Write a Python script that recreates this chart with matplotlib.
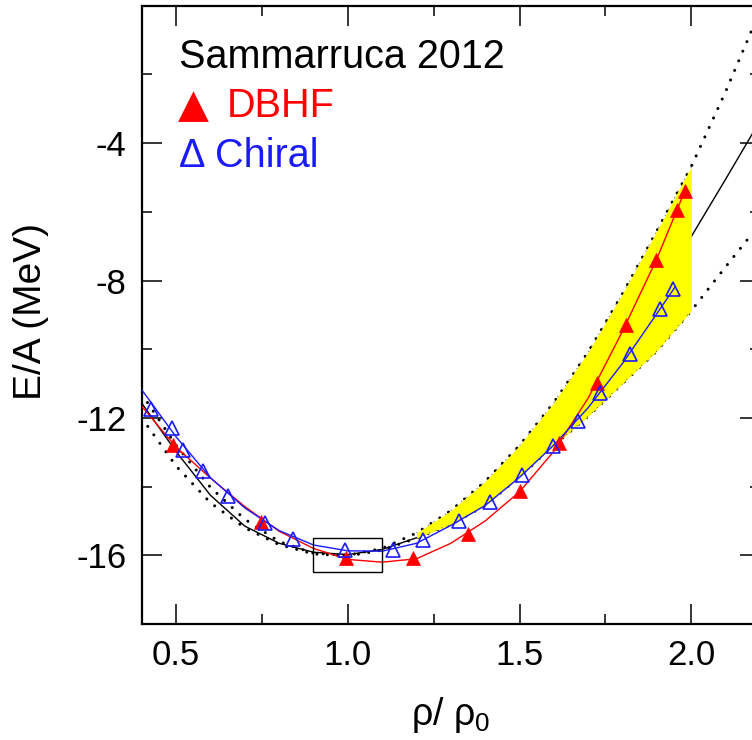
import matplotlib
matplotlib.use("Agg")
import matplotlib.pyplot as plt
from matplotlib.patches import Rectangle

plt.rcParams['font.family'] = ['Liberation Sans', 'DejaVu Sans']
plt.rcParams['mathtext.default'] = 'regular'

# ---------------- data ----------------
# DBHF (red filled triangles)
dbhf_x = [0.492, 0.747, 0.994, 1.189, 1.351, 1.502, 1.616, 1.725, 1.809, 1.898, 1.958, 1.982]
dbhf_y = [-12.78, -15.04, -16.09, -16.09, -15.38, -14.14, -12.73, -10.98, -9.29, -7.40, -5.96, -5.38]

# Chiral (blue open triangles)
chiral_x = [0.426, 0.487, 0.521, 0.579, 0.652, 0.759, 0.841, 0.992, 1.133, 1.220,
            1.324, 1.414, 1.507, 1.596, 1.671, 1.733, 1.822, 1.909, 1.948]
chiral_y = [-11.73, -12.30, -12.93, -13.55, -14.26, -15.07, -15.52, -15.85, -15.86, -15.56,
            -15.01, -14.46, -13.67, -12.83, -12.08, -11.27, -10.13, -8.83, -8.25]

# red DBHF curve
red_x = [0.40, 0.50, 0.60, 0.70, 0.80, 0.90, 1.00, 1.10, 1.20, 1.30, 1.40, 1.50, 1.60, 1.70, 1.80, 1.90, 1.985]
red_y = [-11.66, -12.85, -13.75, -14.58, -15.30, -15.80, -16.12, -16.20, -16.10, -15.65, -15.00, -14.15, -12.97, -11.42, -9.47, -7.36, -5.30]

# blue Chiral curve
blue_x = [0.40, 0.50, 0.60, 0.70, 0.80, 0.90, 1.00, 1.10, 1.20, 1.30, 1.40, 1.50, 1.60, 1.70, 1.80, 1.90, 1.952]
blue_y = [-11.18, -12.55, -13.74, -14.62, -15.28, -15.70, -15.87, -15.88, -15.65, -15.13, -14.55, -13.73, -12.79, -11.70, -10.41, -8.96, -8.20]

# black solid reference EOS
rho_grid = [0.40, 0.50, 0.60, 0.70, 0.80, 0.90, 1.00, 1.10, 1.20, 1.30, 1.40, 1.50, 1.60, 1.70, 1.80, 1.90, 2.00, 2.10, 2.20]
black_y = [-11.57, -12.98, -14.25, -15.15, -15.65, -15.91, -15.98, -15.83, -15.49, -14.95, -14.20, -13.30, -12.25, -11.05, -9.70, -8.25, -6.72, -5.05, -3.35]

# dotted bounds (stiff / soft)
upper_y = [-11.30, -12.80, -14.02, -14.95, -15.60, -15.94, -16.00, -15.80, -15.35, -14.70, -13.85, -12.80, -11.55, -10.08, -8.38, -6.55, -4.68, -2.50, -0.15]
lower_y = [-12.00, -13.40, -14.47, -15.20, -15.69, -15.96, -16.02, -15.85, -15.50, -15.10, -14.55, -13.72, -12.80, -11.95, -11.00, -10.05, -8.88, -7.60, -6.35]

# band range (flow constraint)
band_lo, band_hi = 1.2, 2.0

# ----------------------------------------------------------------
fig = plt.figure(figsize=(7.52, 7.40), dpi=100)
L, R, T, B = 141.7, 760.0, 5.7, 624.0
ax = fig.add_axes([L / 752, 1 - B / 740, (R - L) / 752, (B - T) / 740])

ax.set_xlim(0.4, 2.2)
ax.set_ylim(-18, 0)

# dotted bounds and black curve
dot_style = dict(color='black', lw=2.2, linestyle=(0, (0.01, 3.4)), dash_capstyle='round', zorder=1)
ax.plot(rho_grid, upper_y, **dot_style)
ax.plot(rho_grid, lower_y, **dot_style)
ax.plot(rho_grid, black_y, color='black', lw=1.0, zorder=1.2)

# yellow band
bx = [x for x in rho_grid if band_lo - 1e-9 <= x <= band_hi + 1e-9]
bu = [y for x, y in zip(rho_grid, upper_y) if band_lo - 1e-9 <= x <= band_hi + 1e-9]
bl = [y for x, y in zip(rho_grid, lower_y) if band_lo - 1e-9 <= x <= band_hi + 1e-9]
ax.fill_between(bx, bl, bu, color='#ffff00', lw=0, zorder=2)
edge_style = dict(color='#555555', lw=0.7, linestyle=(0, (1, 6)), zorder=2.2)
ax.plot(bx, bu, **edge_style)
ax.plot(bx, bl, **edge_style)

# model curves
ax.plot(red_x, red_y, color='#ff0000', lw=1.0, zorder=3)
ax.plot(blue_x, blue_y, color='#1a1aff', lw=1.0, zorder=3)
ax.plot(dbhf_x, dbhf_y, linestyle='none', marker='^', ms=10, mfc='#ff0000', mec='#ff0000', mew=0.5, zorder=4)
ax.plot(chiral_x, chiral_y, linestyle='none', marker='^', ms=9.5, mfc='none', mec='#1a1aff', mew=1.2, zorder=4)

# saturation box
ax.add_patch(Rectangle((0.9, -16.5), 0.2, 1.0, fill=False, ec='black', lw=1.0, zorder=3.5))

# ticks
ax.set_xticks([0.5, 1.0, 1.5, 2.0])
ax.set_xticklabels(['0.5', '1.0', '1.5', '2.0'])
ax.set_xticks([0.75, 1.25, 1.75], minor=True)
ax.set_yticks([-16, -12, -8, -4])
ax.set_yticklabels(['-16', '-12', '-8', '-4'])
ax.set_yticks([-18, -14, -10, -6, -2], minor=True)
ax.tick_params(which='both', direction='in', top=True, right=True, labelsize=25, pad=11, width=1.1)
ax.tick_params(which='major', length=14.4)
ax.tick_params(which='minor', length=7.2)
for s in ax.spines.values():
    s.set_linewidth(1.6)

# axis labels
fig.text(31.4 / 752, 1 - 311.7 / 740, 'E/A (MeV)', rotation=90, ha='center', va='center', fontsize=28)
fig.text(451 / 752, 1 - 724.7 / 740, 'ρ/ ρ$_0$', ha='center', va='baseline', fontsize=27)

# legend text
fig.text(179.3 / 752, 1 - 68.3 / 740, 'Sammarruca 2012', ha='left', va='baseline', fontsize=28.5, color='black')
fig.text(178.0 / 752, 1 - 117.3 / 740, '▲', ha='left', va='baseline', fontsize=29,
         family=['DejaVu Sans'], color='#ff0000')
fig.text(226.7 / 752, 1 - 117.3 / 740, 'DBHF', ha='left', va='baseline', fontsize=28.5, color='#ff0000')
fig.text(179.3 / 752, 1 - 166.7 / 740, 'Δ', ha='left', va='baseline', fontsize=28.5, color='#1a1aff')
fig.text(215.0 / 752, 1 - 166.7 / 740, 'Chiral', ha='left', va='baseline', fontsize=28.5, color='#1a1aff')

fig.savefig('out.png', dpi=100)
